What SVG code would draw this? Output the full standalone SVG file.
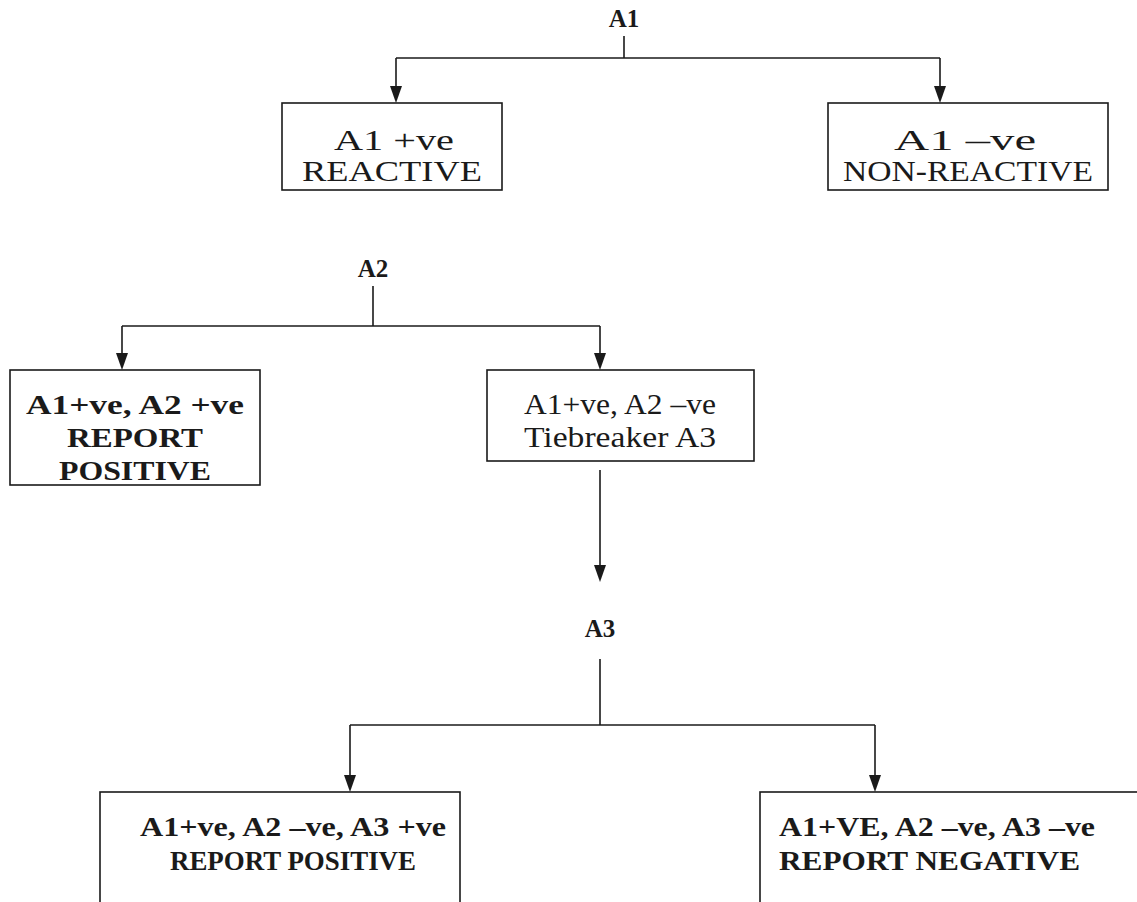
<svg xmlns="http://www.w3.org/2000/svg" width="1137" height="902" viewBox="0 0 1137 902">
<style>
.box{fill:#fff;stroke:#1a1a1a;stroke-width:1.6}
.ln{fill:none;stroke:#1a1a1a;stroke-width:1.6}
.t{font-family:"Liberation Serif","Times New Roman",serif;font-size:30px;fill:#1a1a1a;text-anchor:middle}
.b{font-family:"Liberation Serif","Times New Roman",serif;font-size:28px;font-weight:bold;fill:#1a1a1a;text-anchor:middle}
.lb{font-family:"Liberation Serif","Times New Roman",serif;font-size:25px;font-weight:bold;fill:#1a1a1a;text-anchor:middle}
.s{text-anchor:start}
</style>
<g id="connectors">
<path class="ln" d="M624,36 V58"/>
<path class="ln" d="M396,58 H940"/>
<path class="ln" d="M396,58 V90"/>
<path class="ln" d="M940,58 V90"/>
<path class="ln" d="M373,286 V326"/>
<path class="ln" d="M122,326 H600"/>
<path class="ln" d="M122,326 V356"/>
<path class="ln" d="M600,326 V356"/>
<path class="ln" d="M600,470 V568"/>
<path class="ln" d="M600,659 V725"/>
<path class="ln" d="M350,725 H875"/>
<path class="ln" d="M350,725 V778"/>
<path class="ln" d="M875,725 V778"/>
<g fill="#1a1a1a">
<path d="M390,86 H402 L396,103 Z"/>
<path d="M934,86 H946 L940,103 Z"/>
<path d="M116,353 H128 L122,370 Z"/>
<path d="M594,353 H606 L600,370 Z"/>
<path d="M594,565 H606 L600,582 Z"/>
<path d="M344,775 H356 L350,792 Z"/>
<path d="M869,775 H881 L875,792 Z"/>
</g>
</g>
<g id="A1"><text class="lb" x="624" y="27">A1</text></g>
<g id="A1pos">
<rect class="box" x="282" y="103" width="220" height="87"/>
<text class="t" x="394" y="150" textLength="120" lengthAdjust="spacingAndGlyphs">A1 +ve</text>
<text class="t" x="392" y="181" textLength="180" lengthAdjust="spacingAndGlyphs">REACTIVE</text>
</g>
<g id="A1neg">
<rect class="box" x="828" y="103" width="280" height="87"/>
<text class="t" x="965" y="150" textLength="142" lengthAdjust="spacingAndGlyphs">A1 –ve</text>
<text class="t" x="968" y="181" textLength="250" lengthAdjust="spacingAndGlyphs">NON-REACTIVE</text>
</g>
<g id="A2"><text class="lb" x="373" y="277">A2</text></g>
<g id="A2pos">
<rect class="box" x="10" y="370" width="250" height="115"/>
<text class="b" x="135" y="414" textLength="218" lengthAdjust="spacingAndGlyphs">A1+ve, A2 +ve</text>
<text class="b" x="135" y="447" textLength="136" lengthAdjust="spacingAndGlyphs">REPORT</text>
<text class="b" x="135" y="480" textLength="152" lengthAdjust="spacingAndGlyphs">POSITIVE</text>
</g>
<g id="A2neg">
<rect class="box" x="487" y="370" width="267" height="91"/>
<text class="t" x="620" y="414" textLength="192" lengthAdjust="spacingAndGlyphs">A1+ve, A2 –ve</text>
<text class="t" x="620" y="447" textLength="192" lengthAdjust="spacingAndGlyphs">Tiebreaker A3</text>
</g>
<g id="A3"><text class="lb" x="600" y="637">A3</text></g>
<g id="A3pos">
<rect class="box" x="100" y="792" width="360" height="120"/>
<text class="b" x="293" y="836" textLength="306" lengthAdjust="spacingAndGlyphs">A1+ve, A2 –ve, A3 +ve</text>
<text class="b" x="293" y="870" textLength="246" lengthAdjust="spacingAndGlyphs">REPORT POSITIVE</text>
</g>
<g id="A3neg">
<rect class="box" x="760" y="792" width="400" height="120"/>
<text class="b s" x="779" y="836" textLength="316" lengthAdjust="spacingAndGlyphs">A1+VE, A2 –ve, A3 –ve</text>
<text class="b s" x="779" y="870" textLength="301" lengthAdjust="spacingAndGlyphs">REPORT NEGATIVE</text>
</g>
</svg>
